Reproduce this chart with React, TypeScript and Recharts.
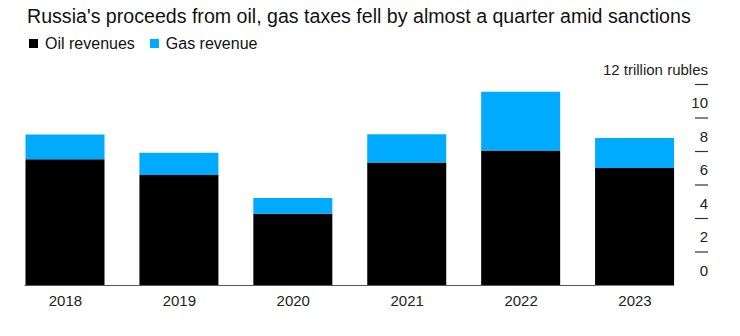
import { Bar, BarChart, Legend, ReferenceLine, XAxis, YAxis } from "recharts";

const years = ["2018", "2019", "2020", "2021", "2022", "2023"];
const oilRevenues = [7.54, 6.59, 4.28, 7.35, 8.06, 7.01];
const gasRevenue = [1.48, 1.33, 0.94, 1.68, 3.5, 1.8];
const yTicks = [0, 2, 4, 6, 8, 10, 12];

const data = years.map((year, i) => ({
  year,
  oil: oilRevenues[i],
  gas: gasRevenue[i],
}));

const BAR = 79;
const FONT = "'Liberation Sans', Arial, sans-serif";

function YTick(props: any) {
  const { x, y, payload } = props;
  const label = payload.value === 12 ? "12 trillion rubles" : String(payload.value);
  return (
    <g>
      {payload.value !== 0 && (
        <line x1={x + 3} x2={x + 16} y1={y} y2={y} stroke="#333" strokeWidth={1.2} />
      )}
      <text x={x + 16} y={y - 10} textAnchor="end" fontSize={15} fill="#222" fontFamily={FONT}>
        {label}
      </text>
    </g>
  );
}

function Baseline(props: any) {
  const { x1, x2, y1 } = props;
  const band = (x2 - x1) / years.length;
  const start = x1 + (band - BAR) / 2;
  return <line x1={start} x2={x2 + 16} y1={y1} y2={y1} stroke="#555" strokeWidth={1.2} />;
}

function LegendContent() {
  const items = [
    { label: "Oil revenues", color: "#000000" },
    { label: "Gas revenue", color: "#00aaff" },
  ];
  return (
    <div style={{ display: "flex", fontFamily: FONT, fontSize: 16, color: "#111", whiteSpace: "nowrap" }}>
      {items.map((it) => (
        <div key={it.label} style={{ display: "flex", alignItems: "center", marginRight: 15 }}>
          <span
            style={{ width: 9, height: 9, background: it.color, display: "inline-block", marginRight: 7 }}
          />
          <span>{it.label}</span>
        </div>
      ))}
    </div>
  );
}

export default function App() {
  return (
    <div style={{ position: "absolute", left: 0, top: 0, width: 740, height: 336, background: "#fff" }}>
      <div
        style={{
          position: "absolute",
          left: 27,
          top: 5,
          fontFamily: FONT,
          fontSize: 19.6,
          color: "#111",
          whiteSpace: "nowrap",
        }}
      >
        Russia's proceeds from oil, gas taxes fell by almost a quarter amid sanctions
      </div>
      <BarChart
        width={740}
        height={336}
        data={data}
        margin={{ top: 84.5, right: 32, bottom: 20.5, left: 8.5 }}
        barSize={BAR}
      >
        <Legend
          verticalAlign="middle"
          layout="horizontal"
          content={<LegendContent />}
          wrapperStyle={{ position: "absolute", top: 34.5, left: 29, width: "auto" }}
        />
        <XAxis
          dataKey="year"
          axisLine={false}
          tickLine={false}
          tickSize={0}
          tickMargin={10}
          height={30}
          tick={{ fontSize: 15, fill: "#222", fontFamily: FONT }}
        />
        <YAxis
          orientation="right"
          domain={[0, 12]}
          ticks={yTicks}
          axisLine={false}
          tickLine={false}
          tickSize={0}
          tickMargin={0}
          width={16}
          tick={<YTick />}
          interval={0}
        />
        <ReferenceLine y={0} shape={<Baseline />} ifOverflow="visible" />
        <Bar dataKey="oil" stackId="a" fill="#000000" isAnimationActive={false} />
        <Bar dataKey="gas" stackId="a" fill="#00aaff" isAnimationActive={false} />
      </BarChart>
    </div>
  );
}
